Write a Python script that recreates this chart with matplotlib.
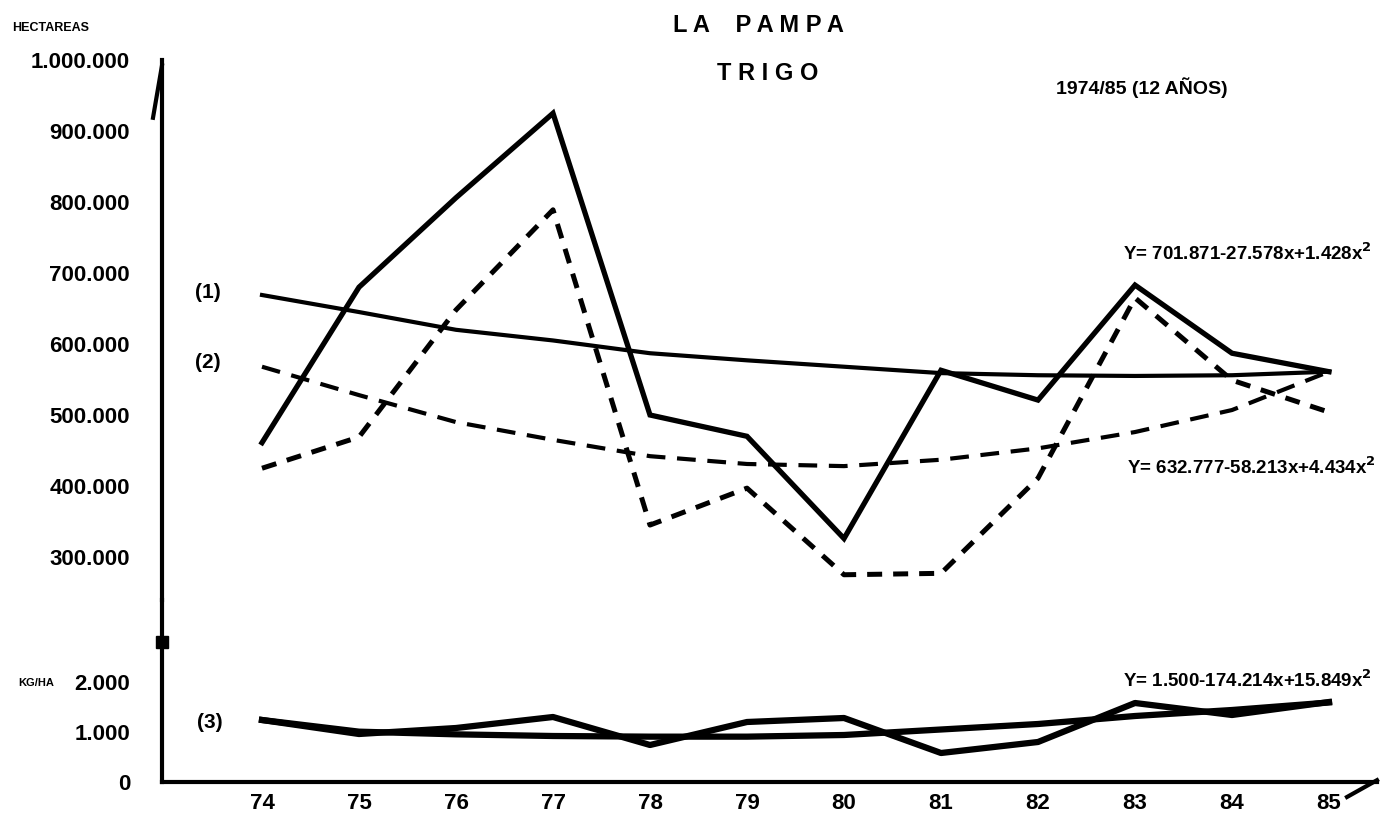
import matplotlib.pyplot as plt

# years (x axis)
years = [74, 75, 76, 77, 78, 79, 80, 81, 82, 83, 84, 85]
year_labels = ["74", "75", "76", "77", "78", "79", "80", "81", "82", "83", "84", "85"]

# hectareas, in thousands
sembrada = [461, 680, 806, 925, 500, 470, 326, 563, 521, 683, 587, 561]
cosechada = [425, 469, 648, 789, 345, 397, 275, 277, 411, 665, 549, 504]
tend_1 = [669, 645, 620, 605, 587, 577, 568, 559, 556, 555, 556, 561]
tend_2 = [568, 528, 490, 465, 442, 431, 428, 437, 453, 476, 507, 561]

# rendimiento kg/ha
rinde = [1240, 960, 1080, 1300, 740, 1200, 1280, 580, 800, 1580, 1340, 1600]
tend_3 = [1240, 1007, 953, 920, 907, 907, 940, 1050, 1160, 1320, 1440, 1590]

ha_ticks = [300, 400, 500, 600, 700, 800, 900, 1000]
ha_labels = ["300.000", "400.000", "500.000", "600.000", "700.000", "800.000", "900.000", "1.000.000"]
kg_ticks = [0, 1000, 2000]
kg_labels = ["0", "1.000", "2.000"]

eq_1 = "Y= 701.871-27.578x+1.428x$^2$"
eq_2 = "Y= 632.777-58.213x+4.434x$^2$"
eq_3 = "Y= 1.500-174.214x+15.849x$^2$"

plt.rcParams['font.family'] = ['Liberation Sans', 'DejaVu Sans']
plt.rcParams['font.weight'] = 'bold'
plt.rcParams['mathtext.default'] = 'bf'

W, H = 1381, 817
fig = plt.figure(figsize=(W / 100, H / 100), dpi=100)


def fx(px):
    return px / W


def fy(py):
    return 1 - py / H


x0, x1 = 162, 1377
xlim = (74 - 100 / 97, 74 + (x1 - 262) / 97)

ax_top = fig.add_axes([fx(x0), fy(600), fx(x1) - fx(x0), fy(60) - fy(600)])
ax_bot = fig.add_axes([fx(x0), fy(782), fx(x1) - fx(x0), fy(600) - fy(782)])

ax_top.set_xlim(*xlim)
ax_bot.set_xlim(*xlim)
ax_top.set_ylim(1000 - 540 / 0.71, 1000)
ax_bot.set_ylim(0, 182 * 20)

k = 'black'
ax_top.plot(years, sembrada, color=k, lw=3.8, solid_joinstyle='miter')
ax_top.plot(years, cosechada, color=k, lw=3.6, ls=(0, (3, 2.2)))
ax_top.plot(years, tend_1, color=k, lw=3.0)
ax_top.plot(years, tend_2, color=k, lw=3.0, ls=(0, (4.5, 2.8)))

ax_bot.plot(years, rinde, color=k, lw=4.5)
ax_bot.plot(years, tend_3, color=k, lw=4.5)

for ax in (ax_top, ax_bot):
    ax.spines['top'].set_visible(False)
    ax.spines['right'].set_visible(False)
    ax.spines['left'].set_linewidth(3)
    ax.patch.set_alpha(0)
ax_top.spines['bottom'].set_visible(False)
ax_bot.spines['bottom'].set_linewidth(3)

ax_top.set_xticks([])
ax_top.set_yticks(ha_ticks)
ax_top.set_yticklabels(ha_labels)
ax_bot.set_yticks(kg_ticks)
ax_bot.set_yticklabels(kg_labels)
ax_bot.set_xticks(years)
ax_bot.set_xticklabels(year_labels)
for ax in (ax_top, ax_bot):
    ax.tick_params(axis='y', length=0, pad=23, labelsize=16)
ax_bot.tick_params(axis='x', length=0, pad=8, labelsize=16)

# axis arrow, break mark and hook
ax_top.plot([0, -9 / 1215], [0.99, 0.893], color=k, lw=3, transform=ax_top.transAxes, clip_on=False)
ax_bot.plot([0], [(782 - 642) / 182], marker='s', ms=8, color=k,
            transform=ax_bot.transAxes, clip_on=False)
ax_bot.plot([1.0, 1 - 30 / 1215], [0.01, -15 / 182], color=k, lw=3,
            transform=ax_bot.transAxes, clip_on=False)

# titles
fig.text(fx(758), fy(26), "L A    P A M P A", ha='center', va='center', fontsize=17)
fig.text(fx(768), fy(73), "T R I G O", ha='center', va='center', fontsize=17)
fig.text(fx(1142), fy(88), "1974/85 (12 AÑOS)", ha='center', va='center', fontsize=14)
fig.text(fx(12), fy(28), "HECTAREAS", ha='left', va='center', fontsize=9)
fig.text(fx(18), fy(683), "KG/HA", ha='left', va='center', fontsize=8)

fig.text(fx(208), fy(292), "(1)", ha='center', va='center', fontsize=15)
fig.text(fx(208), fy(363), "(2)", ha='center', va='center', fontsize=15)
fig.text(fx(210), fy(723), "(3)", ha='center', va='center', fontsize=15)

fig.text(fx(1372), fy(253), eq_1, ha='right', va='center', fontsize=13.5)
fig.text(fx(1376), fy(467), eq_2, ha='right', va='center', fontsize=13.5)
fig.text(fx(1372), fy(680), eq_3, ha='right', va='center', fontsize=13.5)

fig.savefig("out.png", dpi=100)
